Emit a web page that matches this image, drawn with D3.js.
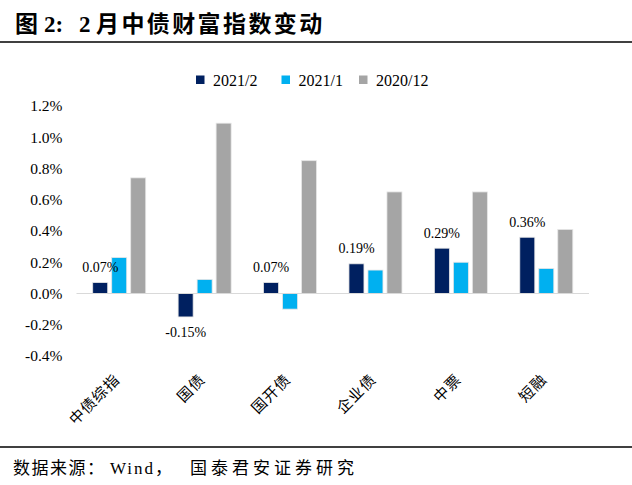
<!DOCTYPE html>
<html>
<head>
<meta charset="utf-8">
<script src="https://cdn.jsdelivr.net/npm/d3@7"></script>
<style>
  body { margin: 0; background: #fff; }
  text { font-family: "Liberation Serif", "Noto Sans CJK SC", serif; }
</style>
</head>
<body>
<div id="chart"></div>
<script>
const categories = ["中债综指", "国债", "国开债", "企业债", "中票", "短融"];
const seriesNames = ["2021/2", "2021/1", "2020/12"];
const feb2021 = [0.07, -0.15, 0.07, 0.19, 0.29, 0.36];
const jan2021 = [0.23, 0.09, -0.10, 0.15, 0.20, 0.16];
const dec2020 = [0.74, 1.09, 0.85, 0.65, 0.65, 0.41];
const yTicks = [-0.4, -0.2, 0, 0.2, 0.4, 0.6, 0.8, 1.0, 1.2];
const colors = ["#002060", "#00B0F0", "#A5A5A5"];

const W = 632, H = 485;
const plot = { left: 76.5, right: 589, top: 106, bottom: 356 };
const pct = (d, f) => d3.format(f)(d).replace("−", "-") + "%";

const svg = d3.select("#chart")
    .append("svg")
    .attr("width", W)
    .attr("height", H);

// title and rules
const title = svg.append("text")
    .attr("y", 32)
    .attr("font-size", 23)
    .attr("font-weight", "bold")
    .attr("fill", "#000");
title.append("tspan").attr("x", 15).text("图");
title.append("tspan").attr("x", 44).text("2:");
title.append("tspan").attr("x", 79).text("2");
title.append("tspan").attr("x", 96).attr("letter-spacing", 2.4).text("月中债财富指数变动");

svg.append("line")
    .attr("x1", 0).attr("x2", W)
    .attr("y1", 42).attr("y2", 42)
    .attr("stroke", "#000").attr("stroke-width", 1.5);
svg.append("line")
    .attr("x1", 0).attr("x2", W)
    .attr("y1", 447).attr("y2", 447)
    .attr("stroke", "#000").attr("stroke-width", 1.5);

const source = svg.append("text")
    .attr("y", 474)
    .attr("font-size", 17)
    .attr("fill", "#000");
source.append("tspan").attr("x", 13).attr("letter-spacing", 1.5).text("数据来源：");
source.append("tspan").attr("x", 110).attr("letter-spacing", 2).text("Wind");
source.append("tspan").attr("x", 155).text("，");
source.append("tspan").attr("x", 190).attr("letter-spacing", 4).text("国泰君安证券研究");

const data = categories.map((c, i) => ({
    cat: c,
    values: [feb2021[i], jan2021[i], dec2020[i]]
}));

const x0 = d3.scaleBand()
    .domain(categories)
    .range([plot.left, plot.right]);
const half = 26.5;
const x1 = d3.scaleBand()
    .domain(seriesNames)
    .range([x0.bandwidth() / 2 - half, x0.bandwidth() / 2 + half])
    .paddingInner(0.21);
const y = d3.scaleLinear()
    .domain([-0.4, 1.2])
    .range([plot.bottom, plot.top]);

// y axis labels (no line)
const yAxis = svg.append("g")
    .attr("transform", `translate(${plot.left - 14},0)`)
    .call(d3.axisLeft(y).tickValues(yTicks).tickSize(0).tickPadding(0)
        .tickFormat(d => pct(d, ".1f")));
yAxis.select(".domain").remove();
yAxis.selectAll("text")
    .attr("font-size", 15.5)
    .attr("fill", "#000")
    .attr("font-family", "Liberation Serif");

// bars
const groups = svg.selectAll(".grp")
    .data(data)
    .enter()
    .append("g")
    .attr("class", "grp")
    .attr("transform", d => `translate(${x0(d.cat)},0)`);

groups.selectAll("rect")
    .data(d => d.values.map((v, i) => ({ key: seriesNames[i], v, i })))
    .enter()
    .append("rect")
    .attr("x", d => x1(d.key))
    .attr("width", x1.bandwidth())
    .attr("y", d => y(Math.max(0, d.v)))
    .attr("height", d => Math.abs(y(d.v) - y(0)))
    .attr("fill", d => colors[d.i])
    .attr("stroke", "#e6e6e6")
    .attr("stroke-width", 0.8);

// zero line
svg.append("line")
    .attr("x1", plot.left).attr("x2", plot.right)
    .attr("y1", y(0)).attr("y2", y(0))
    .attr("stroke", "#d9d9d9").attr("stroke-width", 1);

// data labels for 2021/2
groups.append("text")
    .attr("x", x1(seriesNames[0]) + x1.bandwidth() / 2)
    .attr("y", d => d.values[0] >= 0 ? y(d.values[0]) - 15 : y(d.values[0]) + 16)
    .attr("text-anchor", "middle")
    .attr("dominant-baseline", "central")
    .attr("font-size", 14)
    .attr("fill", "#000")
    .text(d => pct(d.values[0], ".2f"));

// category labels, rotated
svg.selectAll(".xlab")
    .data(categories)
    .enter()
    .append("text")
    .attr("class", "xlab")
    .attr("transform", d => `translate(${x0(d) + x0.bandwidth() / 2 - 2},377) rotate(-45)`)
    .attr("text-anchor", "end")
    .attr("dominant-baseline", "central")
    .attr("font-size", 15)
    .attr("letter-spacing", 1)
    .attr("fill", "#000")
    .text(d => d);

// legend
const legend = svg.append("g")
    .attr("transform", "translate(0,80)");
const legX = [196, 281.5, 359];
seriesNames.forEach((s, i) => {
    legend.append("rect")
        .attr("x", legX[i]).attr("y", -4.5)
        .attr("width", 8.5).attr("height", 8.5)
        .attr("fill", colors[i]);
    legend.append("text")
        .attr("x", legX[i] + 17)
        .attr("y", 0)
        .attr("dominant-baseline", "central")
        .attr("font-size", 16)
        .attr("fill", "#000")
        .text(s);
});
</script>
</body>
</html>
